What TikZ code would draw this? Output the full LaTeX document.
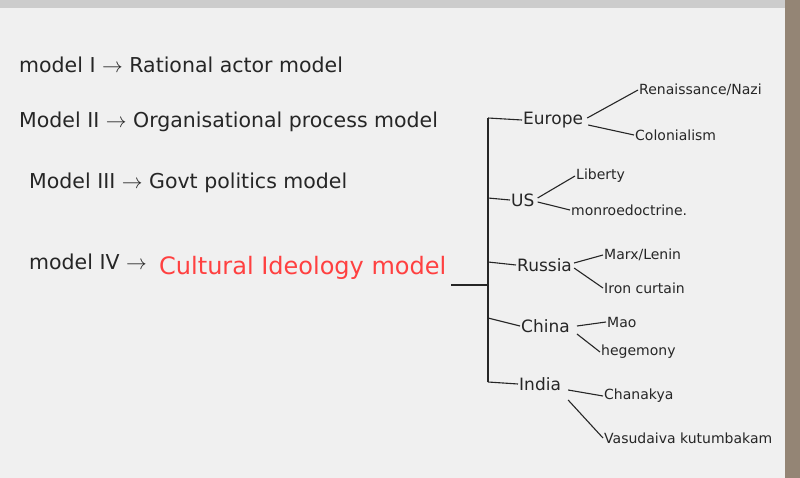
\documentclass[tikz,border=0pt]{standalone}
\usepackage{fontspec}
\setmainfont{DejaVu Sans}
\begin{document}
\begin{tikzpicture}[x=1pt,y=-1pt,
 ink/.style={draw=black!85,line width=1.1pt},
 lt/.style={font=\fontsize{20.5}{24}\selectfont,text=black!85,anchor=west,inner sep=1pt},
 rt/.style={font=\fontsize{14}{17}\selectfont,text=black!85,anchor=west,inner sep=1pt},
 ct/.style={font=\fontsize{17}{20}\selectfont,text=black!85,anchor=west,inner sep=1pt}]
\useasboundingbox (0,0) rectangle (800,478);
\fill[gray!12] (0,0) rectangle (800,478);
\fill[gray!40] (0,0) rectangle (800,8);
\fill[brown!40!black!60] (785,0) rectangle (800,478);
\node[lt] (m1) at (18,65) {model I $\rightarrow$ Rational actor model};
\node[lt] (m2) at (18,122) {Model II $\rightarrow$ Organisational process model};
\node[lt] (m3) at (28,183) {Model III $\rightarrow$ Govt politics model};
\node[lt] (m4) at (28,262) {model IV $\rightarrow$};
\node[lt,text=red!75,font=\fontsize{24}{28}\selectfont] (cim) at (158,268) {Cultural Ideology model};
\coordinate (tv) at (488,285);
\draw[ink] (cim.east |- tv) ++(4,0) coordinate (ce) -- (tv);
\node[ct] (eu) at (522,120) {Europe};
\node[ct] (us) at (510,200) {US};
\node[ct] (ru) at (516,265) {Russia};
\node[ct] (ch) at (520,326) {China};
\node[ct] (in) at (518,384) {India};
\draw[ink] (488,118) coordinate (top) -- (488,382) coordinate (bot);
\draw[ink] (top) -- (eu.west);
\draw[ink] (488,198) -- (us.west);
\draw[ink] (488,262) -- (ru.west);
\draw[ink] (488,318) -- (ch.west);
\draw[ink] (bot) -- (in.west);
\node[rt] (e1) at (638,90) {Renaissance/Nazi};
\node[rt] (e2) at (634,135) {Colonialism};
\node[rt] (u1) at (575,176) {Liberty};
\node[rt] (u2) at (570,210) {monroedoctrine.};
\node[rt] (r1) at (603,255) {Marx/Lenin};
\node[rt] (r2) at (603,288) {Iron curtain};
\node[rt] (c1) at (606,322) {Mao};
\node[rt] (c2) at (600,352) {hegemony};
\node[rt] (i1) at (603,396) {Chanakya};
\node[rt] (i2) at (603,438) {Vasudaiva kutumbakam};
\draw[ink] (eu.east)++(3,-2) -- (e1.west);
\draw[ink] (eu.east)++(4,5) -- (e2.west);
\draw[ink] (us.east)++(2,-2) -- (u1.west);
\draw[ink] (us.east)++(2,2) -- (u2.west);
\draw[ink] (ru.east)++(1,-2) -- (r1.west);
\draw[ink] (ru.east)++(1,3) -- (r2.west);
\draw[ink] (ch.east)++(6,0) -- (c1.west);
\draw[ink] (ch.east)++(6,8) -- (c2.west);
\draw[ink] (in.east)++(6,6) -- (i1.west);
\draw[ink] (in.east)++(6,16) -- (i2.west);
\end{tikzpicture}
\end{document}
